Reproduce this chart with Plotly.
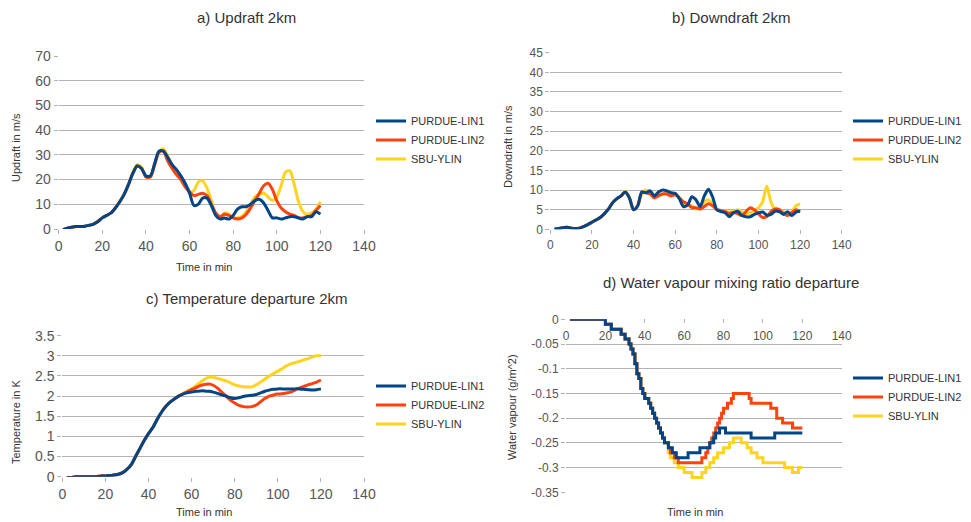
import plotly.graph_objects as go

# The page body adds an 8 px margin, so the figure is drawn 8 px smaller and
# reference pixel positions are shifted by OFF.
REF_W, REF_H, OFF = 971, 522, 8
W, H = REF_W - OFF, REF_H - OFF

# ---------------- data ----------------
t2 = list(range(2, 121, 2))  # time in min (2-minute sampling)

a_lin1 = [-0.3, 0.3, 0.7, 1.0, 1.0, 1.1, 1.5, 2.0, 3.0, 4.5, 5.5, 6.5, 8.5, 11, 14, 18, 22.5, 25.5,
          24.5, 21.5, 21.5, 26.5, 31.5, 31.5, 29, 26, 24, 21.5, 18.5, 14.5, 9.5, 10, 12.5, 12.5, 9.5,
          5.5, 4, 4.5, 4, 5.5, 8, 9, 9, 10, 11.5, 12, 10.5, 7.5, 4.5, 4.5, 4, 4.5, 5, 5, 4.5, 4, 5, 5, 7, 6]
a_lin2 = [-0.3, 0.3, 0.7, 1.0, 1.0, 1.1, 1.5, 2.0, 3.0, 4.5, 5.5, 6.5, 8.5, 11, 14, 18, 22.5, 25.5,
          24.5, 21, 21, 26, 31, 31.5, 27.5, 24.5, 22, 20, 17, 15, 13.5, 14, 14.5, 13.5, 10,
          6.5, 5, 6, 5.5, 4.5, 4, 4.5, 6, 8.5, 11.5, 14.5, 17.5, 18.5, 16, 11.5, 8.5, 7, 6, 5.5, 4.5,
          4.5, 5, 5.5, 7.5, 9.5]
a_sbu = [-0.3, 0.3, 0.7, 1.0, 1.0, 1.1, 1.5, 2.0, 3.0, 4.5, 5.5, 6.5, 8.5, 11, 14, 18, 23, 26,
         25, 21, 21, 26, 31, 32.5, 29.5, 26, 23, 20.5, 17.5, 15, 15.5, 19, 19.5, 16.5, 11.5,
         6, 4.5, 6.5, 6, 4.5, 4.5, 5, 7, 10, 13, 14, 14.5, 13, 11.5, 13, 17.5, 23, 23.5, 18, 11,
         7, 6, 6.5, 8, 11]

b_lin1 = [0, 0.2, 0.4, 0.5, 0.3, 0.2, 0.3, 0.7, 1.2, 1.8, 2.4, 3, 4, 5.2, 6.8, 7.8, 8.5, 9.5,
          8, 5, 6, 9.5, 9.3, 9.8, 8.5, 9.5, 10, 9.8, 9.3, 9.2, 7.8, 5.8, 6.2, 8.3, 7.5, 5.8, 8.5,
          10.2, 8.2, 5, 4.5, 4.2, 3.2, 4.2, 4.6, 3.5, 3.2, 3.2, 3.8, 4.2, 4.4, 3.6, 3.8, 4.6, 4.5,
          3.8, 4.5, 3.5, 4.4, 4.6]
b_lin2 = [0, 0.2, 0.4, 0.5, 0.3, 0.2, 0.3, 0.7, 1.2, 1.8, 2.4, 3, 4, 5.2, 6.8, 7.8, 8.5, 9.5,
          8, 5, 6, 9.5, 9.3, 9, 8, 8.6, 9, 9, 8.5, 8.8, 8, 7, 6.5, 5.5, 5.5, 5.2, 5.8, 6.5, 6, 5,
          4.8, 4.5, 4, 4.3, 4, 3.5, 4.5, 5.5, 5, 4, 3, 3.2, 4.5, 5.2, 5, 4, 3.5, 4.2, 5, 4.5]
b_sbu = [0, 0.2, 0.4, 0.5, 0.3, 0.2, 0.3, 0.7, 1.2, 1.8, 2.4, 3, 4, 5.2, 6.8, 7.8, 8.5, 9.7,
         8.2, 5, 6, 9, 10, 9, 8.5, 8.5, 9, 9, 8.8, 9, 8, 6.5, 6, 6, 5.2, 5.5, 7, 7.5, 6.5, 5,
         4.8, 4.5, 4.5, 4.5, 5, 4.5, 4, 4.2, 4.8, 5.5, 7, 11, 7, 5, 5, 4.5, 4, 4.5, 6, 6.5]

c_lin1 = [-0.02, -0.02, 0, 0, 0, 0, 0, 0, 0.02, 0.02, 0.03, 0.04, 0.06, 0.1, 0.18, 0.3, 0.5, 0.7,
          0.9, 1.07, 1.22, 1.42, 1.6, 1.74, 1.85, 1.93, 2.0, 2.05, 2.08, 2.1, 2.12, 2.13, 2.13,
          2.12, 2.1, 2.07, 2.03, 2.0, 1.96, 1.94, 1.96, 1.99, 2.01, 2.02, 2.04, 2.08, 2.12, 2.15,
          2.17, 2.18, 2.18, 2.18, 2.18, 2.18, 2.18, 2.17, 2.16, 2.15, 2.16, 2.18]
c_lin2 = [-0.02, -0.02, 0, 0, 0, 0, 0, 0, 0.02, 0.02, 0.03, 0.04, 0.06, 0.1, 0.18, 0.3, 0.5, 0.7,
          0.9, 1.07, 1.22, 1.42, 1.6, 1.74, 1.85, 1.93, 2.0, 2.06, 2.11, 2.16, 2.21, 2.26, 2.29,
          2.3, 2.27, 2.2, 2.1, 2.0, 1.9, 1.83, 1.77, 1.74, 1.73, 1.74, 1.78, 1.86, 1.94, 2.0,
          2.03, 2.05, 2.06, 2.08, 2.1, 2.15, 2.2, 2.24, 2.28, 2.31, 2.35, 2.4]
c_sbu = [-0.02, -0.02, 0, 0, 0, 0, 0, 0, 0.02, 0.02, 0.03, 0.04, 0.06, 0.1, 0.18, 0.3, 0.5, 0.7,
         0.9, 1.07, 1.22, 1.42, 1.6, 1.74, 1.85, 1.93, 2.0, 2.06, 2.12, 2.18, 2.26, 2.34, 2.42,
         2.47, 2.47, 2.44, 2.41, 2.38, 2.33, 2.28, 2.25, 2.23, 2.23, 2.23, 2.28, 2.35, 2.42, 2.5,
         2.56, 2.62, 2.68, 2.75, 2.8, 2.83, 2.86, 2.9, 2.93, 2.97, 3.0, 3.0]

# water vapour: step change points (time, value)
d_lin1_t = [2, 20, 23, 28, 30, 32, 33, 34, 35, 36, 37, 38, 39, 40, 42, 43, 44, 45, 46, 47, 48, 49,
            50, 52, 54, 56, 62, 68, 73, 75, 76, 78, 81, 94, 106, 120]
d_lin1_v = [0, -0.01, -0.02, -0.03, -0.04, -0.05, -0.06, -0.07, -0.09, -0.11, -0.12, -0.14, -0.15,
            -0.16, -0.17, -0.18, -0.19, -0.20, -0.21, -0.22, -0.23, -0.24, -0.25, -0.26, -0.27,
            -0.28, -0.27, -0.26, -0.25, -0.24, -0.23, -0.22, -0.23, -0.24, -0.23, -0.23]
d_lin2_t = [2, 20, 23, 28, 30, 32, 33, 34, 35, 36, 37, 38, 39, 40, 42, 43, 44, 45, 46, 47, 48, 49,
            50, 52, 53, 55, 57, 69, 71, 72, 73, 74, 75, 76, 77, 78, 79, 80, 82, 84, 85, 93, 94,
            104, 107, 110, 115, 120]
d_lin2_v = [0, -0.01, -0.02, -0.03, -0.04, -0.05, -0.06, -0.07, -0.09, -0.11, -0.12, -0.14, -0.15,
            -0.16, -0.17, -0.18, -0.19, -0.20, -0.21, -0.22, -0.23, -0.24, -0.25, -0.26, -0.27,
            -0.28, -0.29, -0.28, -0.27, -0.26, -0.25, -0.24, -0.23, -0.22, -0.21, -0.20, -0.19,
            -0.18, -0.17, -0.16, -0.15, -0.16, -0.17, -0.18, -0.20, -0.21, -0.22, -0.22]
d_sbu_t = [2, 20, 23, 28, 30, 32, 33, 34, 35, 36, 37, 38, 39, 40, 42, 43, 44, 45, 46, 47, 48, 49,
           50, 52, 53, 55, 57, 60, 64, 69, 71, 73, 75, 77, 80, 83, 85, 89, 92, 94, 97, 100, 111,
           115, 118, 120]
d_sbu_v = [0, -0.01, -0.02, -0.03, -0.04, -0.05, -0.06, -0.07, -0.09, -0.11, -0.12, -0.14, -0.15,
           -0.16, -0.17, -0.18, -0.19, -0.20, -0.21, -0.22, -0.23, -0.24, -0.25, -0.27, -0.28,
           -0.29, -0.30, -0.31, -0.32, -0.31, -0.30, -0.29, -0.28, -0.27, -0.26, -0.25, -0.24,
           -0.25, -0.26, -0.27, -0.28, -0.29, -0.30, -0.31, -0.30, -0.30]

series_names = ["PURDUE-LIN1", "PURDUE-LIN2", "SBU-YLIN"]
colors = ["#004586", "#ff420e", "#ffd320"]

d_tickvals = [0, -0.05, -0.1, -0.15, -0.2, -0.25, -0.3, -0.35]
d_ticktext = ["0", "-0.05", "-0.1", "-0.15", "-0.2", "-0.25", "-0.3", "-0.35"]

# ---------------- figure ----------------
FONT = "Liberation Sans, Arial, sans-serif"
GRID = "#b3b3b3"
TICKC = "#555555"

fig = go.Figure()

panels = [
    ("x", "y", "legend", [t2, t2, t2], [a_lin1, a_lin2, a_sbu], "spline"),
    ("x2", "y2", "legend2", [t2, t2, t2], [b_lin1, b_lin2, b_sbu], "spline"),
    ("x3", "y3", "legend3", [t2, t2, t2], [c_lin1, c_lin2, c_sbu], "spline"),
    ("x4", "y4", "legend4", [d_lin1_t, d_lin2_t, d_sbu_t], [d_lin1_v, d_lin2_v, d_sbu_v], "hv"),
]
for xa, ya, lg, xs, ys, shape in panels:
    for i in range(3):
        line = dict(color=colors[i], width=3, shape=shape)
        if shape == "spline":
            line["smoothing"] = 0.8
        fig.add_trace(go.Scatter(
            x=xs[i], y=ys[i], mode="lines", name=series_names[i], line=line,
            xaxis=xa, yaxis=ya, legend=lg, zorder=3 - i, hoverinfo="skip"))


def px(x):
    return (x - OFF) / W


def py(y):
    return 1 - (y - OFF) / H


def xax(d0, d1, anchor, size=14, **kw):
    base = dict(domain=[px(d0), px(d1)], anchor=anchor, range=[0, 140], dtick=20, tick0=0,
                showgrid=False, zeroline=False, showline=True, linecolor=GRID, linewidth=1,
                mirror=True, ticks="outside", ticklen=4, tickcolor=GRID, automargin=False,
                tickfont=dict(family=FONT, size=size, color=TICKC))
    base.update(kw)
    return base


def yax(d0, d1, anchor, rng, dtick, size=14, **kw):
    base = dict(domain=[py(d1), py(d0)], anchor=anchor, range=rng, dtick=dtick,
                showgrid=True, gridcolor=GRID, gridwidth=1, zeroline=False, showline=True,
                linecolor=GRID, linewidth=1, mirror=True, ticks="outside", ticklen=4,
                tickcolor=GRID, automargin=False, tickfont=dict(family=FONT, size=size, color=TICKC))
    base.update(kw)
    return base


def leg(x, ymid):
    return dict(x=px(x), y=py(ymid), xanchor="left", yanchor="middle",
                xref="container", yref="container",
                bgcolor="rgba(0,0,0,0)", font=dict(family=FONT, size=11, color="#333333"),
                itemwidth=30, itemclick=False)


fig.update_layout(
    width=W, height=H, autosize=False,
    margin=dict(l=0, r=0, t=0, b=0, autoexpand=False),
    paper_bgcolor="white", plot_bgcolor="white",
    showlegend=True,
    xaxis=xax(58.7, 364, "y"),
    yaxis=yax(56, 229, "x", [0, 70], 10),
    xaxis2=xax(550.3, 841.7, "y2", size=12),
    yaxis2=yax(52.7, 229.3, "x2", [0, 45], 5, size=12),
    xaxis3=xax(62.3, 364, "y3"),
    yaxis3=yax(335.7, 476.7, "x3", [0, 3.5], 0.5),
    xaxis4=xax(566, 841.7, "y4", size=12, side="top", ticks="inside",
               ticklabelposition="outside", ticklabelstandoff=-26),
    yaxis4=yax(319.3, 492.3, "x4", [-0.35, 0], None, size=12,
               tickmode="array", tickvals=d_tickvals, ticktext=d_ticktext),
    legend=leg(371, 140),
    legend2=leg(848, 140),
    legend3=leg(371, 405),
    legend4=leg(848, 397),
)

titles = [
    ("a) Updraft 2km", 246, 17.5, 15, 0),
    ("b) Downdraft 2km", 731, 17.5, 15, 0),
    ("c) Temperature departure 2km", 246, 298, 15, 0),
    ("d) Water vapour mixing ratio departure", 731, 282, 15, 0),
    ("Time in min", 204, 267, 11, 0),
    ("Time in min", 204, 512, 11, 0),
    ("Time in min", 695, 512, 11, 0),
    ("Updraft in m/s", 16, 148, 11, -90),
    ("Downdraft in m/s", 508, 147, 11, -90),
    ("Temperature in K", 16, 422, 11, -90),
    ("Water vapour (g/m^2)", 512, 407, 11, -90),
]
for text, x, y, size, ang in titles:
    fig.add_annotation(text=text, x=px(x), y=py(y), xref="paper", yref="paper",
                       xanchor="center", yanchor="middle", showarrow=False, textangle=ang,
                       font=dict(family=FONT, size=size, color="#333333"))

fig.write_html("out.html")
